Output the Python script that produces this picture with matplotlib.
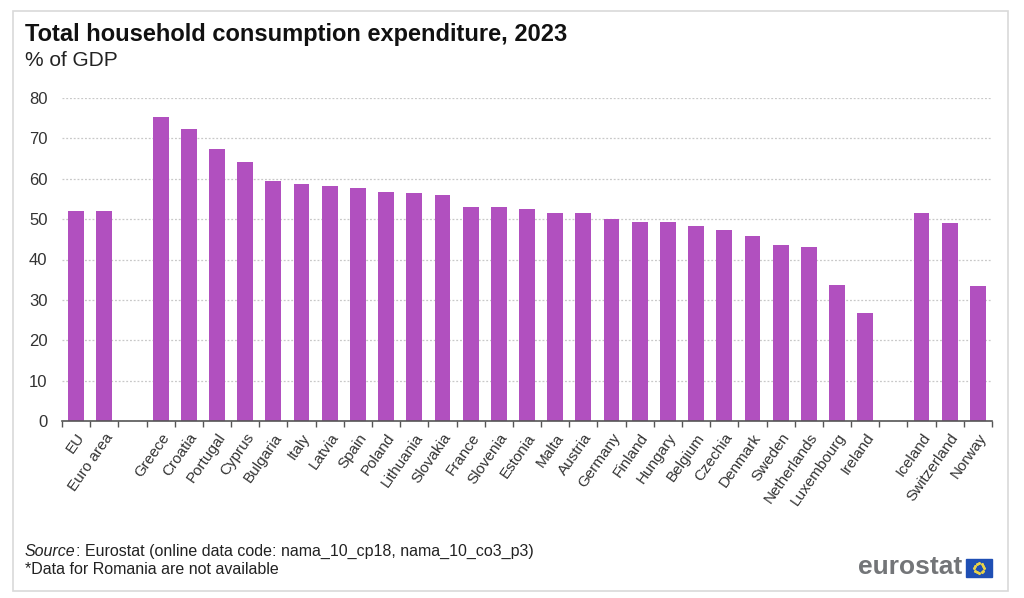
import numpy as np
import matplotlib
matplotlib.use("Agg")
import matplotlib.pyplot as plt
from matplotlib.patches import Rectangle

plt.rcParams['font.family'] = ['Liberation Sans', 'DejaVu Sans']

# data (% of GDP, 2023)
agg_labels = ['EU', 'Euro area']
agg_values = [52.0, 52.0]
eu_labels = ['Greece', 'Croatia', 'Portugal', 'Cyprus', 'Bulgaria', 'Italy', 'Latvia',
             'Spain', 'Poland', 'Lithuania', 'Slovakia', 'France', 'Slovenia', 'Estonia',
             'Malta', 'Austria', 'Germany', 'Finland', 'Hungary', 'Belgium', 'Czechia',
             'Denmark', 'Sweden', 'Netherlands', 'Luxembourg', 'Ireland']
eu_values = [75.4, 72.3, 67.3, 64.2, 59.5, 58.8, 58.2, 57.7, 56.7, 56.5, 56.0, 53.1,
             53.1, 52.4, 51.6, 51.4, 50.0, 49.4, 49.2, 48.2, 47.4, 45.7, 43.5, 43.2,
             33.7, 26.8]
efta_labels = ['Iceland', 'Switzerland', 'Norway']
efta_values = [51.6, 49.0, 33.5]

# one empty slot between groups
groups = [(agg_labels, agg_values), (eu_labels, eu_values), (efta_labels, efta_values)]
pos, labels, values = [], [], []
slot = 0
for lab, val in groups:
    for l, v in zip(lab, val):
        pos.append(slot)
        labels.append(l)
        values.append(v)
        slot += 1
    slot += 1
n_slots = slot - 1

W, H = 1024, 598
fig = plt.figure(figsize=(W / 100, H / 100), dpi=100)
fig.patch.set_facecolor('white')

# light frame around the chart
fig.add_artist(Rectangle((13 / W, 1 - 591 / H), (1008 - 13) / W, (591 - 11) / H,
                         transform=fig.transFigure, fill=False, ec='#d9d9d9', lw=1.2))

ax = fig.add_axes([62 / W, 1 - 421 / H, (992 - 62) / W, (421 - 98) / H])
ax.bar(pos, values, width=0.56, color='#b150bf', zorder=2)
ax.set_xlim(-0.5, n_slots - 0.5)
ax.set_ylim(0, 80)
ax.set_yticks(range(0, 81, 10))
ax.yaxis.grid(True, linestyle=(0, (1.5, 1.5)), color='#c8c8c8', lw=0.9, zorder=0)
for s in ['top', 'right', 'left']:
    ax.spines[s].set_visible(False)
ax.spines['bottom'].set_color('#555555')
ax.spines['bottom'].set_linewidth(1.2)
ax.spines['bottom'].set_zorder(3)

ax.set_xticks(pos)
ax.set_xticklabels(labels, rotation=55, ha='right', rotation_mode='anchor',
                   fontsize=11, color='#333333')
ax.set_xticks(np.arange(-0.5, n_slots, 1.0), minor=True)
ax.tick_params(axis='x', which='major', length=0, pad=7)
ax.tick_params(axis='x', which='minor', length=4, color='#555555', width=1)
ax.tick_params(axis='y', length=0, labelsize=12, labelcolor='#333333', pad=10.5)

fig.text(25 / W, 1 - 35 / H, 'Total household consumption expenditure, 2023',
         fontsize=17, fontweight='bold', color='#111111', va='center')
fig.text(25 / W, 1 - 60 / H, '% of GDP', fontsize=15, color='#222222', va='center')

# source line: italic word then the rest right after it
src = fig.text(25 / W, 1 - 551 / H, 'Source', fontsize=11.5, style='italic',
               color='#222222', va='center')
fig.canvas.draw()
src_end = src.get_window_extent().x1 / W
fig.text(src_end, 1 - 551 / H, ': Eurostat (online data code: nama_10_cp18, nama_10_co3_p3)',
         fontsize=11.5, color='#222222', va='center')
fig.text(25 / W, 1 - 570 / H, '*Data for Romania are not available', fontsize=11.5,
         color='#222222', va='center')

# eurostat logo
fig.text(962 / W, 1 - 567 / H, 'eurostat', fontsize=19, fontweight='bold',
         color='#737578', ha='right', va='center')
fig.add_artist(Rectangle((966 / W, 1 - 577 / H), 26 / W, 18 / H,
                         transform=fig.transFigure, color='#1f4fb4'))
ang = np.linspace(0, 2 * np.pi, 12, endpoint=False)
fig.add_artist(plt.Line2D((979 + 5 * np.cos(ang)) / W, (1 - 568 / H) + 5 * np.sin(ang) / H,
                          transform=fig.transFigure, ls='none', marker='o', ms=1.2,
                          color='#e8d24a'))

fig.savefig('out.png', dpi=100)
